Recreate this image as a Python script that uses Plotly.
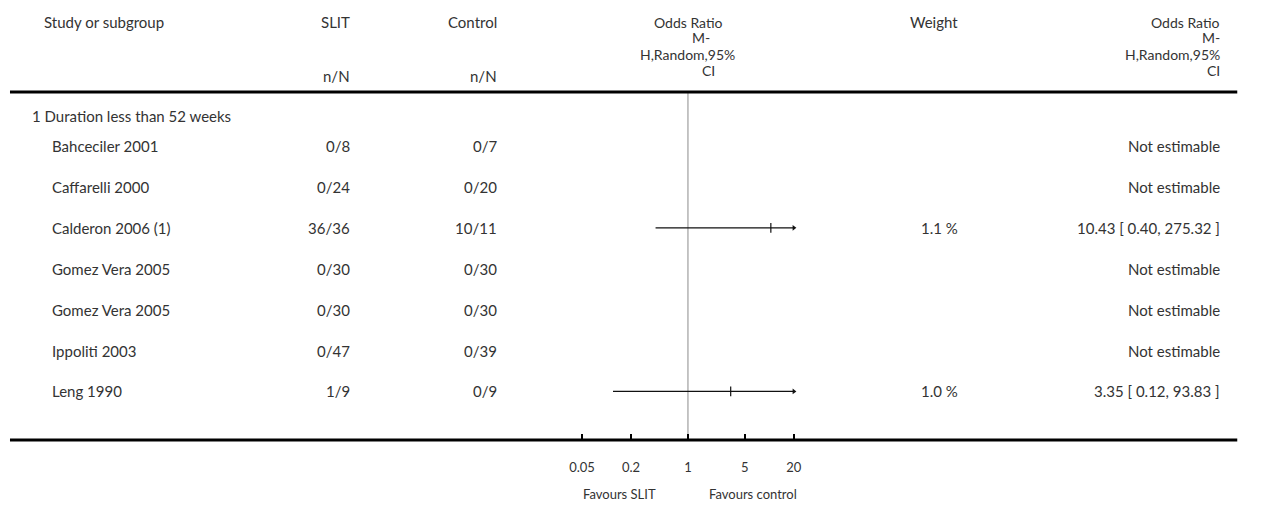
import math
import plotly.graph_objects as go

# ---------------- data ----------------
subgroup = "1 Duration less than 52 weeks"
studies = ["Bahceciler 2001", "Caffarelli 2000", "Calderon 2006 (1)", "Gomez Vera 2005",
           "Gomez Vera 2005", "Ippoliti 2003", "Leng 1990"]
slit_nN = ["0/8", "0/24", "36/36", "0/30", "0/30", "0/47", "1/9"]
control_nN = ["0/7", "0/20", "10/11", "0/30", "0/30", "0/39", "0/9"]
or_est = [None, None, 10.43, None, None, None, 3.35]
or_lo = [None, None, 0.40, None, None, None, 0.12]
or_hi = [None, None, 275.32, None, None, None, 93.83]
weights = ["", "", "1.1 %", "", "", "", "1.0 %"]
or_text = ["Not estimable", "Not estimable", "10.43 [ 0.40, 275.32 ]", "Not estimable",
           "Not estimable", "Not estimable", "3.35 [ 0.12, 93.83 ]"]
tick_vals = [0.05, 0.2, 1, 5, 20]
tick_text = ["0.05", "0.2", "1", "5", "20"]
favours = ["Favours SLIT", "Favours control"]
header_or = ["Odds Ratio", "M-", "H,Random,95%", "CI"]

# ---------------- layout constants ----------------
W, H = 1266, 509
FONT = "Lato"
TXT = "#333333"
XMIN, XMAX = 0.05, 20
PLOT_L, PLOT_R = 579, 793           # pixel positions of 0.05 and 20
PAD_DEC = 0.05                      # axis padding in decades
TOP_LINE, BOT_LINE = 92, 440        # pixel y of thick rules
ROW0, ROWSTEP = 146, 40.9
GROUP_Y = 116

px_per_dec = (PLOT_R - PLOT_L) / (math.log10(XMAX) - math.log10(XMIN))
dom_l = PLOT_L - PAD_DEC * px_per_dec
dom_r = PLOT_R + PAD_DEC * px_per_dec


def px(x):
    return x / W


def py(y):
    return 1 - y / H


def row_y(i):
    return ROW0 + ROWSTEP * i


fig = go.Figure()

# CI lines (clipped to axis range, arrow where clipped)
for i, (e, lo, hi) in enumerate(zip(or_est, or_lo, or_hi)):
    if e is None:
        continue
    y = row_y(i)
    lo_c = max(lo, XMIN)
    hi_c = min(hi, XMAX)
    fig.add_trace(go.Scatter(x=[lo_c, hi_c], y=[y, y], mode="lines",
                             line=dict(color="#111111", width=1.2),
                             hoverinfo="skip", showlegend=False, cliponaxis=False))
    fig.add_trace(go.Scatter(x=[e], y=[y], mode="markers",
                             marker=dict(symbol="line-ns", size=7,
                                         line=dict(color="#111111", width=1.2)),
                             hoverinfo="skip", showlegend=False, cliponaxis=False))
    if hi > XMAX:
        fig.add_trace(go.Scatter(x=[hi_c], y=[y], mode="markers",
                                 marker=dict(symbol="triangle-right", size=5, color="#111111"),
                                 hoverinfo="skip", showlegend=False, cliponaxis=False))
    if lo < XMIN:
        fig.add_trace(go.Scatter(x=[lo_c], y=[y], mode="markers",
                                 marker=dict(symbol="triangle-left", size=5, color="#111111"),
                                 hoverinfo="skip", showlegend=False, cliponaxis=False))

# vertical line of no effect
fig.add_shape(type="line", xref="x", yref="paper", x0=1, x1=1, y0=py(TOP_LINE), y1=py(BOT_LINE),
              line=dict(color="#8c8c8c", width=1), layer="below")

# thick rules
for yy in (TOP_LINE, BOT_LINE):
    fig.add_shape(type="line", xref="paper", yref="paper", x0=px(1), x1=px(1241),
                  y0=py(yy), y1=py(yy), line=dict(color="black", width=3))

ann = []


def add_text(t, x, y, anchor="left", size=15, color=TXT):
    ann.append(dict(text=t, x=px(x), y=py(y), xref="paper", yref="paper", showarrow=False,
                    xanchor=anchor, yanchor="middle", borderpad=0,
                    font=dict(family=FONT, size=size, color=color)))


# header
add_text("Study or subgroup", 34, 22)
add_text("SLIT", 346, 22, "right")
add_text("n/N", 346, 76, "right")
add_text("Control", 494, 22, "right")
add_text("n/N", 494, 76, "right")
add_text("Weight", 935, 22, "center")
mid_x = [687, 699, 686, 707]
hdr_y = [22, 38, 54, 71]
for t, xx, yy in zip(header_or, mid_x, hdr_y):
    add_text(t, xx, yy, "center", size=14)
for t, yy in zip(header_or, hdr_y):
    add_text(t, 1225, yy, "right", size=14)

# subgroup
add_text(subgroup, 22, GROUP_Y)

for i in range(len(studies)):
    y = row_y(i)
    add_text(studies[i], 42, y)
    add_text(slit_nN[i], 346, y, "right")
    add_text(control_nN[i], 494, y, "right")
    if weights[i]:
        add_text(weights[i], 940, y, "center")
    add_text(or_text[i], 1225, y, "right")

# favours labels
add_text(favours[0], 617, 494, "center", size=13)
add_text(favours[1], 752, 494, "center", size=13)

fig.update_layout(
    width=W, height=H,
    margin=dict(l=0, r=0, t=0, b=0),
    paper_bgcolor="white", plot_bgcolor="white",
    annotations=ann,
    showlegend=False,
    xaxis=dict(type="log",
               range=[math.log10(XMIN) - PAD_DEC, math.log10(XMAX) + PAD_DEC],
               domain=[px(dom_l), px(dom_r)],
               tickvals=tick_vals, ticktext=tick_text,
               ticks="inside", ticklen=6, tickwidth=2, tickcolor="black",
               showline=False, showgrid=False, zeroline=False,
               tickfont=dict(family=FONT, size=13, color=TXT),
               ticklabelstandoff=18, anchor="y", fixedrange=True),
    yaxis=dict(range=[BOT_LINE, 0], domain=[py(BOT_LINE), 1],
               visible=False, showgrid=False, zeroline=False, fixedrange=True),
)

fig.write_html("out.html", config={"displayModeBar": False},
               post_script="document.body.style.margin='0';")
